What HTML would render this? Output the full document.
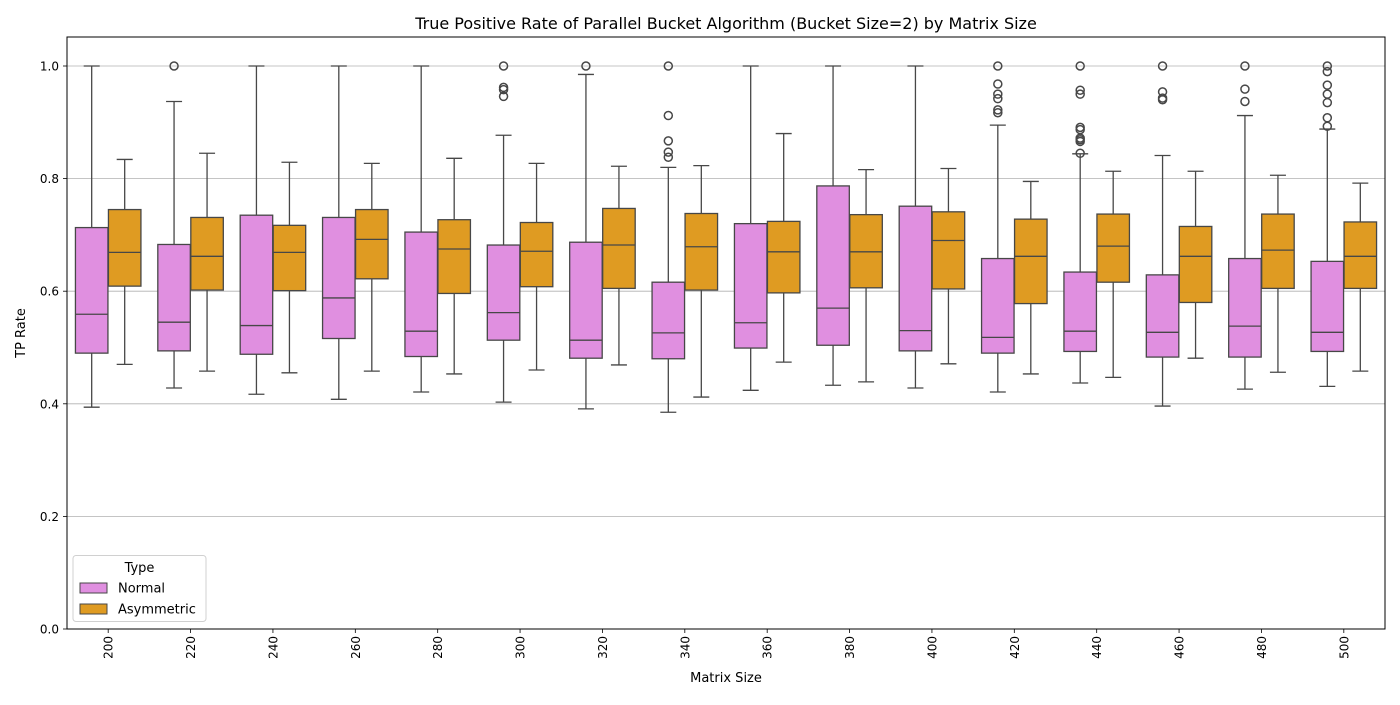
<!DOCTYPE html>
<html><head><meta charset="utf-8"><style>
body{margin:0;background:#fff;font-family:"Liberation Sans","DejaVu Sans",sans-serif}
svg text{font-family:"DejaVu Sans","Liberation Sans",sans-serif;fill:#000}
</style></head><body>
<svg id="chart" width="1400" height="700" xmlns="http://www.w3.org/2000/svg"></svg>
<script>
const categories=["200","220","240","260","280","300","320","340","360","380","400","420","440","460","480","500"];
// [low, q1, median, q3, high]
const normalStats=[
[.394,.49,.559,.713,1.0],[.428,.494,.545,.683,.937],[.417,.488,.539,.735,1.0],[.408,.516,.588,.731,1.0],
[.421,.484,.529,.705,1.0],[.403,.513,.562,.682,.877],[.391,.481,.513,.687,.985],[.385,.48,.526,.616,.82],
[.424,.499,.544,.72,1.0],[.433,.504,.57,.787,1.0],[.428,.494,.53,.751,1.0],[.421,.49,.518,.658,.895],
[.437,.493,.529,.634,.844],[.396,.483,.527,.629,.841],[.426,.483,.538,.658,.912],[.431,.493,.527,.653,.888]];
const asymStats=[
[.47,.609,.669,.745,.834],[.458,.602,.662,.731,.845],[.455,.601,.669,.717,.829],[.458,.622,.692,.745,.827],
[.453,.596,.675,.727,.836],[.46,.608,.671,.722,.827],[.469,.605,.682,.747,.822],[.412,.602,.679,.738,.823],
[.474,.597,.67,.724,.88],[.439,.606,.67,.736,.816],[.471,.604,.69,.741,.818],[.453,.578,.662,.728,.795],
[.447,.616,.68,.737,.813],[.481,.58,.662,.715,.813],[.456,.605,.673,.737,.806],[.458,.605,.662,.723,.792]];
const normalOutliers=[[],[1.0],[],[],[],[1.0,.962,.958,.946],[1.0],[1.0,.912,.867,.847,.838],[],[],[],
[1.0,.968,.95,.942,.922,.917],[1.0,.957,.95,.891,.887,.872,.869,.866,.845],[1.0,.954,.943,.94],[1.0,.959,.937],
[1.0,.99,.966,.95,.935,.908,.893]];
const yTicks=[0,0.2,0.4,0.6,0.8,1.0];
const yTickLabels=["0.0","0.2","0.4","0.6","0.8","1.0"];

const svg=document.getElementById('chart');
const NS='http://www.w3.org/2000/svg';
const L=67,R=1385,T=37,B=629;
const yS=v=>B-v*563;
const gw=(R-L)/categories.length;
const xC=i=>L+gw*(i+0.5);
function mk(tag,attrs,parent){const e=document.createElementNS(NS,tag);for(const k in attrs)e.setAttribute(k,attrs[k]);(parent||svg).appendChild(e);return e;}

yTicks.forEach((t,i)=>{
  const g=mk('g',{});
  
  
  const y=yS(t);
  if(t>0){mk('line',{x1:L,x2:R,y1:y,y2:y,stroke:'#b0b0b0','stroke-width':0.8},g);}
  mk('line',{x1:L-4,x2:L,y1:y,y2:y,stroke:'#000','stroke-width':0.8},g);
  const tx=mk('text',{x:L-8,y:y+4.5,'text-anchor':'end','font-size':12},g);
  tx.textContent=yTickLabels[i];
  
  
});

function drawBox(i,s,off,fill,name){
  const g=mk('g',{});
  
  
  const w=32.5,cx=xC(i)+off,x0=cx-w/2;
  const st={stroke:'#474747','stroke-width':1.3};
  mk('line',Object.assign({x1:cx,x2:cx,y1:yS(s[0]),y2:yS(s[1])},st),g);
  mk('line',Object.assign({x1:cx,x2:cx,y1:yS(s[3]),y2:yS(s[4])},st),g);
  mk('line',Object.assign({x1:cx-8,x2:cx+8,y1:yS(s[0]),y2:yS(s[0])},st),g);
  mk('line',Object.assign({x1:cx-8,x2:cx+8,y1:yS(s[4]),y2:yS(s[4])},st),g);
  mk('rect',Object.assign({x:x0,y:yS(s[3]),width:w,height:yS(s[1])-yS(s[3]),fill:fill},st),g);
  mk('line',Object.assign({x1:x0,x2:x0+w,y1:yS(s[2]),y2:yS(s[2])},st),g);
  return g;
}
categories.forEach((c,i)=>{
  const gn=drawBox(i,normalStats[i],-16.5,'#e08fe0','box-normal-'+c);
  normalOutliers[i].forEach(v=>{
    const o=mk('circle',{cx:xC(i)-16.5,cy:yS(v),r:4,fill:'none',stroke:'#474747','stroke-width':1.5},gn);
    
    
  });
  drawBox(i,asymStats[i],16.5,'#df9b22','box-asymmetric-'+c);
  const x=xC(i);
  mk('line',{x1:x,x2:x,y1:B,y2:B+4,stroke:'#000','stroke-width':0.8});
  const tx=mk('text',{x:0,y:0,'text-anchor':'end','font-size':12,transform:`translate(${x+4.5},${B+7}) rotate(-90)`});
  tx.textContent=c;
  
  
});
const frame=mk('rect',{x:L,y:T,width:R-L,height:B-T,fill:'none',stroke:'#000','stroke-width':1});



const title=mk('text',{x:(L+R)/2,y:29,'text-anchor':'middle','font-size':16});
title.textContent='True Positive Rate of Parallel Bucket Algorithm (Bucket Size=2) by Matrix Size';


const xl=mk('text',{x:(L+R)/2,y:682,'text-anchor':'middle','font-size':13});
xl.textContent='Matrix Size';


const yl=mk('text',{x:0,y:0,'text-anchor':'middle','font-size':13,transform:`translate(25,${(T+B)/2}) rotate(-90)`});
yl.textContent='TP Rate';



const lg=mk('g',{});


mk('rect',{x:73,y:555.5,width:133,height:66,rx:3,fill:'#fff','fill-opacity':0.8,stroke:'#d0d0d0'},lg);
const lt=mk('text',{x:139.5,y:572,'text-anchor':'middle','font-size':13},lg);lt.textContent='Type';
[['Normal','#e08fe0',583],['Asymmetric','#df9b22',604]].forEach(([n,c,y])=>{
  const e=mk('g',{},lg);
  
  
  mk('rect',{x:80,y:y,width:27,height:10,fill:c,stroke:'#474747','stroke-width':1},e);
  const t=mk('text',{x:118,y:y+9.5,'font-size':13},e);t.textContent=n;
});
</script>
</body></html>
